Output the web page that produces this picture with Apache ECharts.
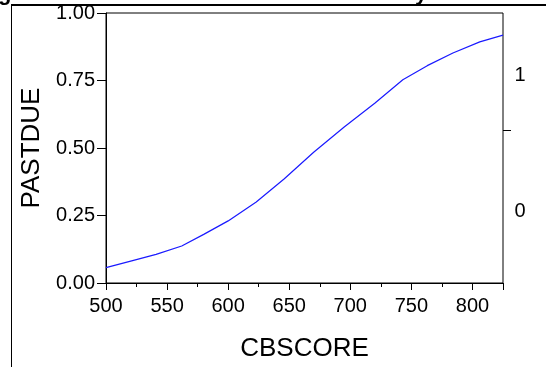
<!DOCTYPE html>
<html>
<head>
<meta charset="utf-8">
<script src="https://cdn.jsdelivr.net/npm/echarts@6/dist/echarts.min.js"></script>
<style>
  html, body { margin: 0; padding: 0; background: #fff; }
  #chart { width: 546px; height: 367px; }
</style>
</head>
<body>
<div id="chart"></div>
<script>
var cbScore = [500, 521, 541, 562, 580, 600, 623, 646, 670, 695, 720, 743, 763, 784, 806, 825];
var pastDue = [0.057, 0.082, 0.106, 0.137, 0.18, 0.23, 0.30, 0.386, 0.484, 0.578, 0.666, 0.753, 0.805, 0.852, 0.893, 0.918];
var yTicks = [0, 0.25, 0.5, 0.75, 1];
var rightLabels = ['1', '0'];

var font = "'Liberation Sans', Arial, sans-serif";
var points = [];
for (var i = 0; i < cbScore.length; i++) {
  points.push([cbScore[i], pastDue[i]]);
}

var chart = echarts.init(document.getElementById('chart'));
var option = {
  animation: false,
  backgroundColor: '#fff',
  grid: {
    left: 106,
    right: 43,
    top: 13,
    bottom: 82,
    show: true,
    borderColor: '#000',
    borderWidth: 1
  },
  xAxis: {
    type: 'value',
    min: 500,
    max: 825,
    interval: 50,
    splitNumber: 2,
    name: 'CBSCORE',
    nameLocation: 'middle',
    nameGap: 53,
    nameTextStyle: { color: '#000', fontFamily: font, fontSize: 26 },
    axisLine: { lineStyle: { color: '#000', width: 1 } },
    axisTick: { show: true, length: 7, lineStyle: { color: '#000' } },
    minorTick: { show: true, splitNumber: 2, length: 4, lineStyle: { color: '#000' } },
    splitLine: { show: false },
    axisLabel: {
      color: '#000', fontFamily: font, fontSize: 20, margin: 13,
      showMaxLabel: false
    }
  },
  yAxis: {
    type: 'value',
    min: yTicks[0],
    max: yTicks[yTicks.length - 1],
    interval: 0.25,
    name: 'PASTDUE',
    nameLocation: 'middle',
    nameGap: 59,
    nameTextStyle: { color: '#000', fontFamily: font, fontSize: 26 },
    axisLine: { show: true, lineStyle: { color: '#000', width: 1 } },
    axisTick: { show: true, length: 9, lineStyle: { color: '#000' } },
    splitLine: { show: false },
    axisLabel: {
      color: '#000', fontFamily: font, fontSize: 20, margin: 11,
      formatter: function (v) { return v.toFixed(2); }
    }
  },
  series: [{
    type: 'line',
    data: points,
    showSymbol: false,
    smooth: false,
    lineStyle: { color: '#1a1aff', width: 1.2 }
  }],
  graphic: [
    // frame of the surrounding panel
    { type: 'line', shape: { x1: 11, y1: 5, x2: 546, y2: 5 }, style: { stroke: '#000', lineWidth: 2 } },
    { type: 'line', shape: { x1: 11.5, y1: 5, x2: 11.5, y2: 367 }, style: { stroke: '#000', lineWidth: 1 } },
    // cut-off title glyphs
    { type: 'text', x: -2, y: 5, style: { text: 'g', font: 'bold 22px ' + font, fill: '#000', verticalAlign: 'bottom' } },
    { type: 'text', x: 415, y: 5, style: { text: 'y', font: 'bold 22px ' + font, fill: '#000', verticalAlign: 'bottom' } },
    // right side axis fragment
    { type: 'line', shape: { x1: 503, y1: 130.5, x2: 511, y2: 130.5 }, style: { stroke: '#000', lineWidth: 1 } },
    { type: 'text', x: 520, y: 75, style: { text: rightLabels[0], font: '20px ' + font, fill: '#000', align: 'center', verticalAlign: 'middle' } },
    { type: 'text', x: 520, y: 211, style: { text: rightLabels[1], font: '20px ' + font, fill: '#000', align: 'center', verticalAlign: 'middle' } }
  ]
};
chart.setOption(option);
</script>
</body>
</html>
